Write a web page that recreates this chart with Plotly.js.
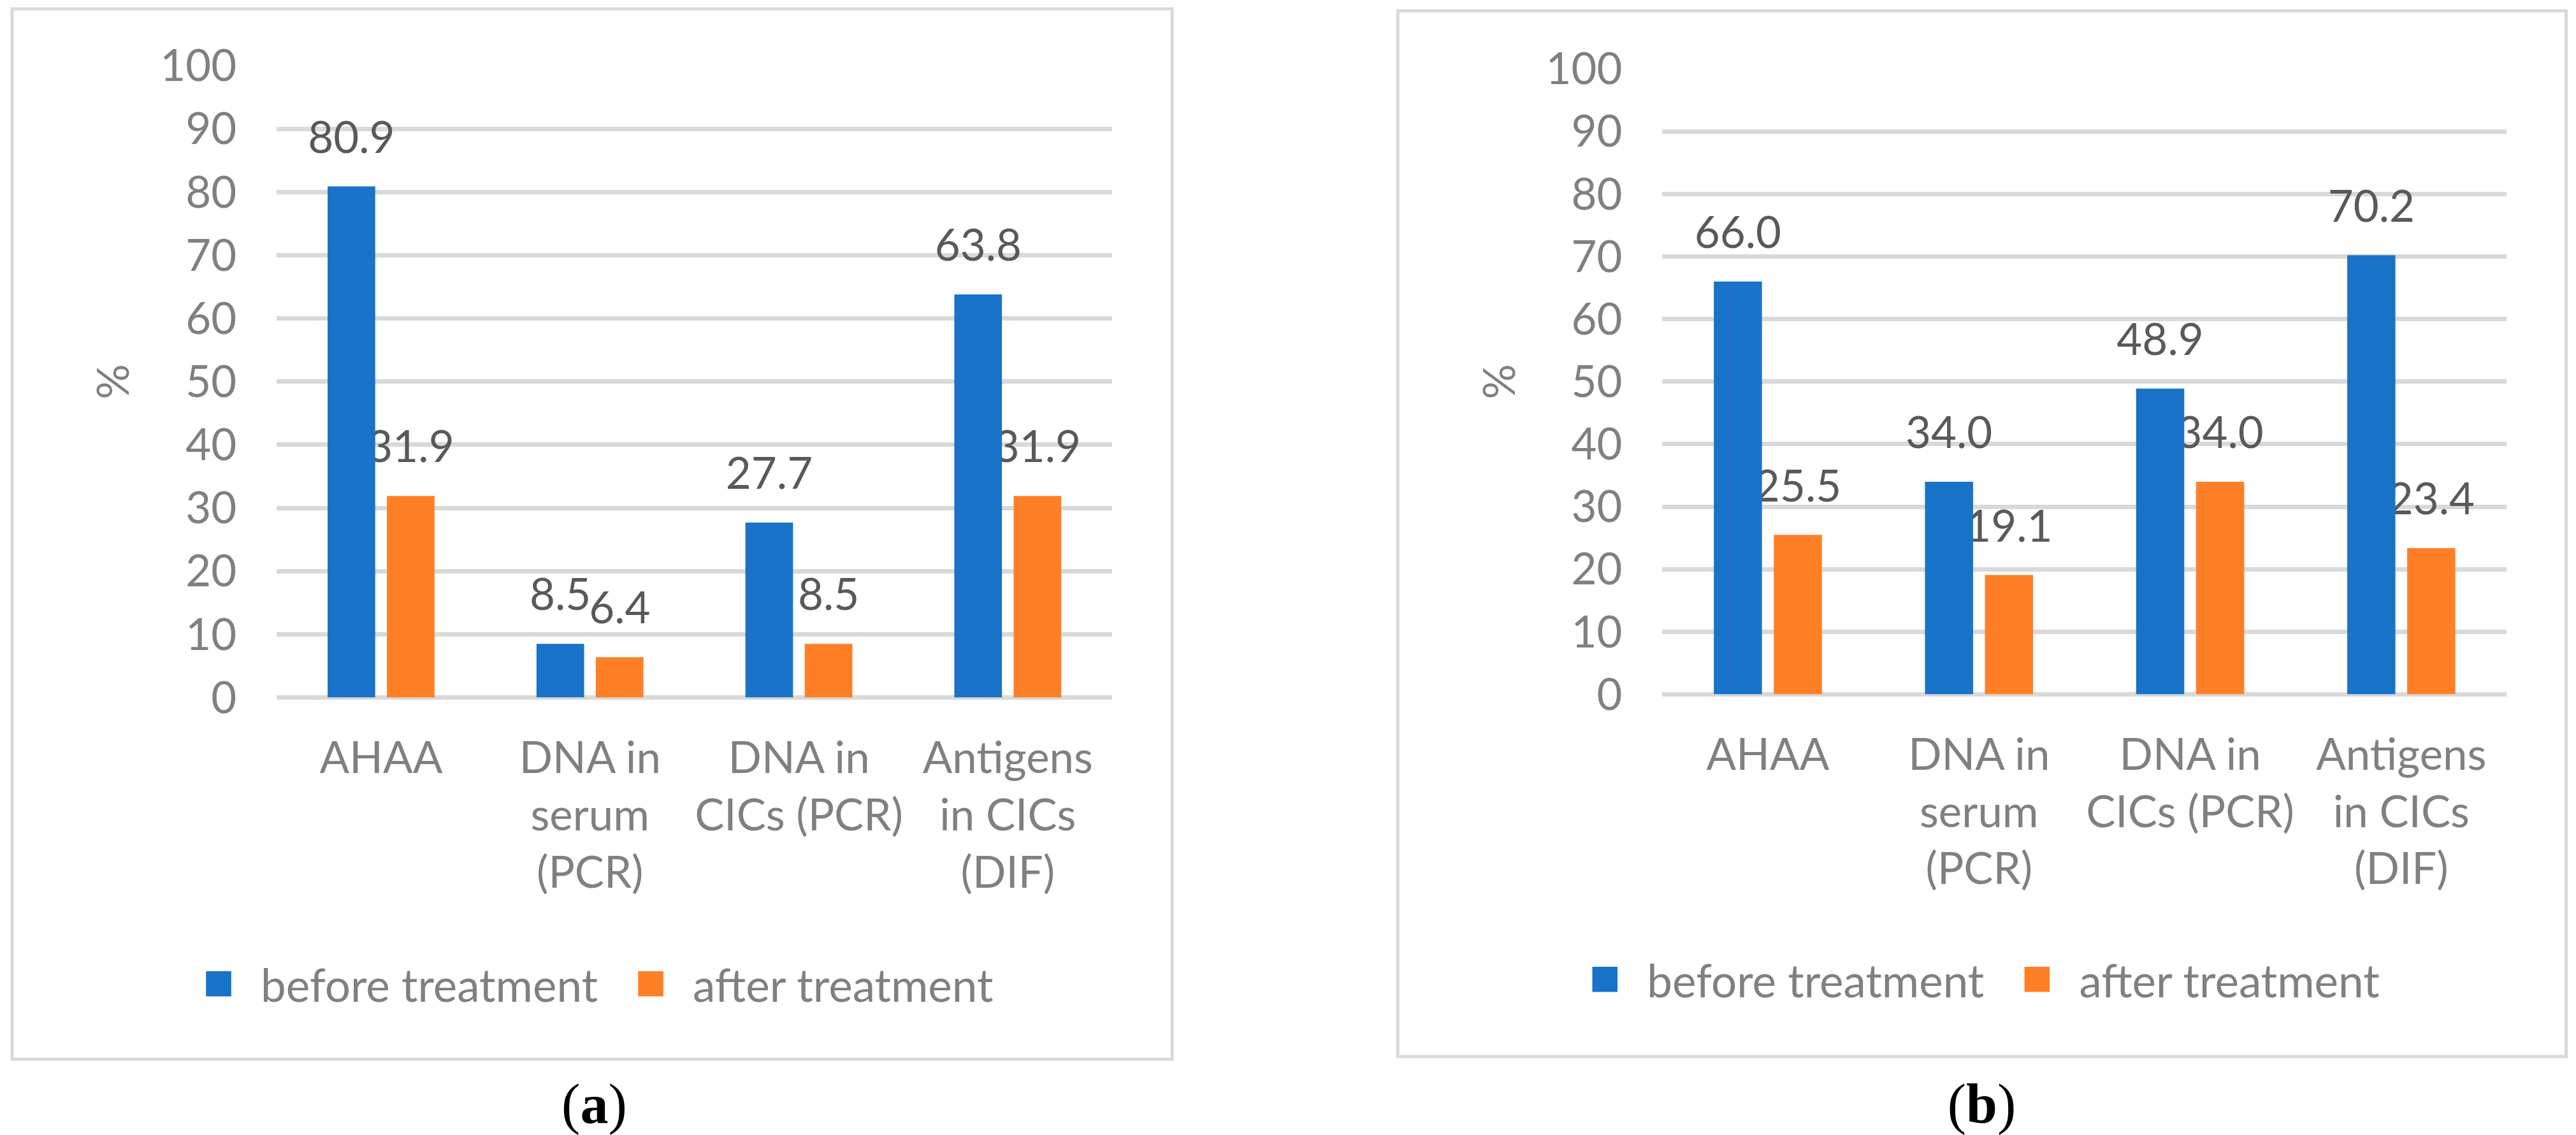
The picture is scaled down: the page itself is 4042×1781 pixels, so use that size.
<!DOCTYPE html>
<html>
<head>
<meta charset="utf-8">
<script src="https://cdn.plot.ly/plotly-3.0.1.min.js"></script>
<style>
  html, body { margin: 0; padding: 0; background: #ffffff; }
  #wrap { width: 4042px; height: 1781px; overflow: hidden; position: relative; background: #fff; }
  #chart { position: absolute; left: 0; top: 0; transform-origin: 0 0; }
</style>
</head>
<body>
<div id="wrap"><div id="chart"></div></div>
<script>
// ---------------- data ----------------
const categories = ['AHAA', 'DNA in serum (PCR)', 'DNA in CICs (PCR)', 'Antigens in CICs (DIF)'];
const tickLabels = ['AHAA', 'DNA in<br>serum<br>(PCR)', 'DNA in<br>CICs (PCR)', 'Antigens<br>in CICs<br>(DIF)'];
const seriesNames = ['before treatment', 'after treatment'];
const beforeA = [80.9, 8.5, 27.7, 63.8];
const afterA  = [31.9, 6.4, 8.5, 31.9];
const beforeB = [66.0, 34.0, 48.9, 70.2];
const afterB  = [25.5, 19.1, 34.0, 23.4];
const yTickVals = [0, 10, 20, 30, 40, 50, 60, 70, 80, 90, 100];
const panelLabels = ['a', 'b'];
const yTitle = '%';

// ---------------- styling ----------------
const K = 3.3;                       // render scale
const FW = 4042, FH = 1781;          // final picture size
const W = FW / K, H = FH / K;        // plotly layout size
const px = v => v / K;
const fx = v => v / FW;
const fy = v => 1 - v / FH;

const BLUE = '#1873C9', ORANGE = '#FF7F27';
const GRID = '#d9d9d9', TICK = '#808080', LABEL = '#595959';
const FONT = 'Lato, "Open Sans", sans-serif';
const FS = px(69);
const FSL = px(71);
const BARW = 0.228, HALFGAP = 0.028;
const LABEL_LIFT = 3.0;              // spacing (axis units) between bar end and its value label

const panels = [
  { xa: 'x',  ya: 'y',  before: beforeA, after: afterA, legend: 'legend',
    xdom: [434, 1745], y0: 1094, y100: 103, box: [19, 14, 1839, 1661],
    legX: 277, legY: 1543, lab: 932 },
  { xa: 'x2', ya: 'y2', before: beforeB, after: afterB, legend: 'legend2',
    xdom: [2608, 3933], y0: 1089, y100: 108, box: [2193, 17, 4026, 1657],
    legX: 2452, legY: 1536, lab: 3109 }
];

const traces = [];
const annotations = [];
const shapes = [];
const layout = {
  width: W, height: H,
  margin: { l: 0, r: 0, t: 0, b: 0, pad: 0 },
  paper_bgcolor: '#ffffff', plot_bgcolor: 'rgba(0,0,0,0)',
  barmode: 'overlay',
  showlegend: true,
  font: { family: FONT, size: FS, color: TICK }
};

function barTrace(p, vals, name, color, offset, rank) {
  return {
    type: 'bar', x: categories, y: vals, name: name,
    xaxis: p.xa, yaxis: p.ya, width: BARW, offset: offset,
    marker: { color: color, line: { width: 0 } },
    legend: p.legend, legendrank: rank, hoverinfo: 'skip'
  };
}
function labelTrace(p, vals, offset) {
  // transparent spacer bar resting on top of each real bar, carrying the value label
  return {
    type: 'bar', x: categories, base: vals, y: vals.map(() => LABEL_LIFT),
    xaxis: p.xa, yaxis: p.ya, width: BARW, offset: offset,
    marker: { color: 'rgba(0,0,0,0)', line: { width: 0 } },
    text: vals.map(v => v.toFixed(1)), textposition: 'outside',
    constraintext: 'none', cliponaxis: false,
    outsidetextfont: { family: FONT, size: FS, color: LABEL },
    showlegend: false, hoverinfo: 'skip'
  };
}

panels.forEach((p, pi) => {
  const sfx = pi === 0 ? '' : '2';
  const offB = -HALFGAP - BARW, offA = HALFGAP;
  // orange bars and labels first, so the blue bars overlap the orange labels as in the original
  traces.push(barTrace(p, p.after, seriesNames[1], ORANGE, offA, 2));
  traces.push(labelTrace(p, p.after, offA));
  traces.push(barTrace(p, p.before, seriesNames[0], BLUE, offB, 1));
  traces.push(labelTrace(p, p.before, offB));

  layout['xaxis' + sfx] = {
    domain: [fx(p.xdom[0]), fx(p.xdom[1])], anchor: 'y' + sfx,
    type: 'category', range: [-0.5, 3.5],
    tickvals: categories, ticktext: tickLabels,
    showgrid: false, zeroline: false, showline: false, ticks: '',
    ticklabelstandoff: 14,
    tickfont: { family: FONT, size: FS, color: TICK }
  };
  layout['yaxis' + sfx] = {
    domain: [fy(p.y0), fy(p.y100)], anchor: 'x' + sfx,
    range: [0, 100], tickvals: yTickVals,
    showgrid: true, gridcolor: GRID, gridwidth: px(7),
    zeroline: true, zerolinecolor: GRID, zerolinewidth: px(7),
    showline: false, ticks: '', ticklabelstandoff: 18,
    tickfont: { family: FONT, size: FS, color: TICK },
    title: { text: yTitle, standoff: 8, font: { family: FONT, size: FS, color: TICK } }
  };
  layout[p.legend] = {
    orientation: 'h', x: fx(p.legX), y: fy(p.legY),
    xanchor: 'left', yanchor: 'middle',
    bgcolor: 'rgba(0,0,0,0)', borderwidth: 0,
    font: { family: FONT, size: FSL, color: TICK },
    traceorder: 'normal'
  };

  // panel label
  annotations.push({
    xref: 'paper', yref: 'paper', x: fx(p.lab), y: fy(1730),
    xanchor: 'center', yanchor: 'middle', showarrow: false,
    text: '(<b>' + panelLabels[pi] + '</b>)',
    font: { family: '"Liberation Serif", "Times New Roman", serif', size: px(88), color: '#000000' }
  });

  // panel frame
  shapes.push({
    type: 'rect', xref: 'paper', yref: 'paper',
    x0: fx(p.box[0]), x1: fx(p.box[2]), y0: fy(p.box[3]), y1: fy(p.box[1]),
    line: { color: GRID, width: px(5) }, fillcolor: 'rgba(0,0,0,0)', layer: 'below'
  });
});

layout.annotations = annotations;
layout.shapes = shapes;

const el = document.getElementById('chart');
el.style.width = W + 'px';
el.style.height = H + 'px';
el.style.transform = 'scale(' + K + ')';
Plotly.newPlot(el, traces, layout, { staticPlot: true, displayModeBar: false });
</script>
</body>
</html>
